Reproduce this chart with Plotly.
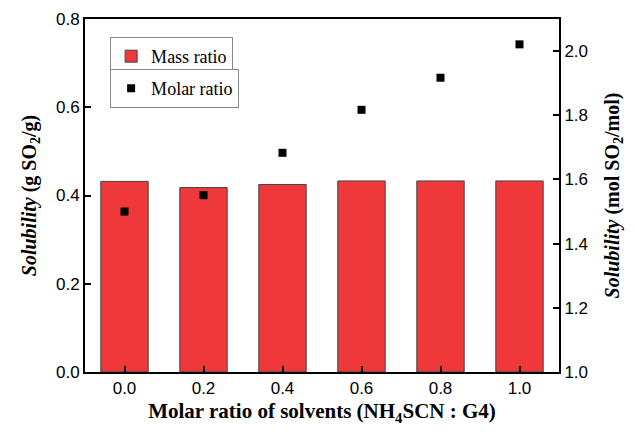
import plotly.graph_objects as go

ratios = [0.0, 0.2, 0.4, 0.6, 0.8, 1.0]
mass_ratio = [0.432, 0.418, 0.425, 0.433, 0.433, 0.433]
molar_ratio = [1.500, 1.551, 1.683, 1.817, 1.917, 2.021]
x_ticks = [0.0, 0.2, 0.4, 0.6, 0.8, 1.0]
x_ticklabels = ["0.0", "0.2", "0.4", "0.6", "0.8", "1.0"]

serif = "Liberation Serif, Times New Roman, serif"
sans = "Liberation Sans, Arial, sans-serif"

fig = go.Figure()
fig.add_trace(go.Bar(
    x=ratios, y=mass_ratio, width=0.12, name="Mass ratio",
    marker=dict(color="rgb(238,56,58)", line=dict(color="#444", width=1)),
    legend="legend",
))
fig.add_trace(go.Scatter(
    x=ratios, y=molar_ratio, mode="markers", name="Molar ratio", yaxis="y2",
    marker=dict(symbol="square", size=8, color="black"),
    legend="legend2",
))

axis_common = dict(showline=True, linecolor="black", linewidth=2, ticks="inside",
                   ticklen=6, tickwidth=2, tickcolor="black", showgrid=False, zeroline=False,
                   automargin=False,
                   tickfont=dict(family=sans, size=17, color="black"))

title_font = dict(family=serif, size=20, color="black")

fig.update_layout(
    width=627, height=427,
    margin=dict(l=77, r=76, t=11, b=63),
    paper_bgcolor="white", plot_bgcolor="white",
    showlegend=True,
    xaxis=dict(range=[-0.1, 1.1], tickvals=x_ticks, ticktext=x_ticklabels, mirror=True,
               title=dict(text="<b>Molar ratio of solvents (NH<sub>4</sub>SCN : G4)</b>",
                          font=dict(family=serif, size=21, color="black"), standoff=6),
               **axis_common),
    yaxis=dict(range=[0, 0.8], tickvals=[0, 0.2, 0.4, 0.6, 0.8], tickformat=".1f",
               title=dict(text="<b><i>Solubility</i> (g SO<sub>2</sub>/g)</b>",
                          font=title_font, standoff=14),
               **axis_common),
    yaxis2=dict(range=[1.0, 2.1], tickvals=[1.0, 1.2, 1.4, 1.6, 1.8, 2.0], tickformat=".1f",
                overlaying="y", side="right",
                title=dict(text="<b><i>Solubility</i> (mol SO<sub>2</sub>/mol)</b>",
                           font=title_font, standoff=18),
                **axis_common),
    legend=dict(x=0.053, y=0.949, xanchor="left", yanchor="top",
                bordercolor="#888", borderwidth=1, bgcolor="white",
                font=dict(family=serif, size=18, color="black")),
    legend2=dict(x=0.053, y=0.858, xanchor="left", yanchor="top",
                 bordercolor="#888", borderwidth=1, bgcolor="white",
                 font=dict(family=serif, size=18, color="black")),
)

fig.write_html("out.html")
